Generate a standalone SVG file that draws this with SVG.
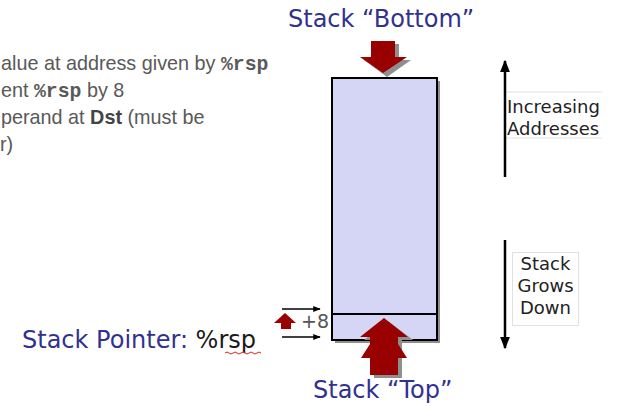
<svg xmlns="http://www.w3.org/2000/svg" width="618" height="406" viewBox="0 0 618 406">
<style>
.body{font-family:"Liberation Sans",Arial,sans-serif;font-size:19.8px;fill:#595959}
.mono{font-family:"Liberation Mono","Courier New",monospace;font-weight:bold}
.title{font-family:"DejaVu Sans",sans-serif;font-size:24px;fill:#31318f}
.lbl{font-family:"DejaVu Sans",sans-serif;font-size:18px;fill:#222}
.red{fill:#990000}
.shadow{fill:#8f8f8f}
.ln{stroke:#000;stroke-width:2.5;fill:none}
.thin{stroke:#000;stroke-width:1.5;fill:none}
</style>
<defs>
<marker id="ahs" viewBox="0 0 10 10" refX="9" refY="5" markerWidth="5" markerHeight="5" orient="auto" markerUnits="strokeWidth">
<path d="M0,1 L10,5 L0,9 z" fill="#000"/>
</marker>
</defs>

<g id="left-text">
<text class="body" x="1" y="70">alue at address given by <tspan class="mono">%rsp</tspan></text>
<text class="body" x="1" y="97">ent <tspan class="mono">%rsp</tspan> by 8</text>
<text class="body" x="1" y="124">perand at <tspan font-weight="bold" fill="#444">Dst</tspan> (must be</text>
<text class="body" x="0" y="151">r)</text>
</g>

<g id="stack">
<rect x="335" y="81" width="105" height="262" class="shadow"/>
<rect x="332" y="78" width="105" height="262" fill="#d5d5f5" stroke="#000" stroke-width="2"/>
<line x1="332" y1="314" x2="437" y2="314" stroke="#000" stroke-width="2"/>
</g>

<g id="bottom-title">
<text class="title" x="288" y="27">Stack “Bottom”</text>
</g>

<g id="top-arrow">
<polygon class="shadow" points="375,44 399,44 399,60 411,60 387,77 364,60 375,60"/>
<polygon class="red" points="371,41 395,41 395,57 407,57 383,73 360,57 371,57"/>
</g>

<g id="bottom-arrow">
<polygon class="shadow" points="374,378 402,378 402,340 413,340 388,321 364,340 374,340"/>
<polygon class="red" points="370,344 398,344 407,358 361,358"/>
<polygon class="red" points="370,375 398,375 398,337 408,337 384,318 360,337 370,337"/>
</g>

<g id="top-title">
<text class="title" x="313" y="398">Stack “Top”</text>
</g>

<g id="pointer">
<text class="title" x="22" y="348" font-size="26">Stack Pointer: <tspan fill="#1a1a1a">%rsp</tspan></text>
<path d="M225,353 q2,-2 4,0 t4,0 t4,0 t4,0 t4,0 t4,0 t4,0 t4,0 t4,0" stroke="#d22" stroke-width="1" fill="none"/>
</g>

<g id="plus8">
<polygon class="red" points="281,323 291,323 291,329 281,329"/>
<polygon class="red" points="274,323 285,313 296,323"/>
<text class="lbl" x="301" y="328" style="fill:#555;font-size:19px">+8</text>
</g>

<g id="increasing">
<line x1="505" y1="92" x2="602" y2="92" stroke="#e2e2e2" stroke-width="1"/>
<line x1="505" y1="138" x2="602" y2="138" stroke="#e2e2e2" stroke-width="1"/>
<text class="lbl" x="507" y="113">Increasing</text>
<text class="lbl" x="507" y="135">Addresses</text>
</g>

<g id="grows">
<rect x="512.5" y="252.5" width="66" height="73" fill="#fff" stroke="#e0e0e0" stroke-width="1"/>
<text class="lbl" x="545.5" y="270" text-anchor="middle">Stack</text>
<text class="lbl" x="545.5" y="292" text-anchor="middle">Grows</text>
<text class="lbl" x="545.5" y="314" text-anchor="middle">Down</text>
</g>

<g id="connectors">
<line class="ln" x1="505" y1="177" x2="505" y2="61" marker-end="url(#ahs)"/>
<line class="ln" x1="505" y1="240" x2="505" y2="348" marker-end="url(#ahs)"/>
<line class="thin" x1="282" y1="309" x2="320" y2="309" marker-end="url(#ahs)"/>
<line class="thin" x1="282" y1="337" x2="320" y2="337" marker-end="url(#ahs)"/>
</g>
</svg>
